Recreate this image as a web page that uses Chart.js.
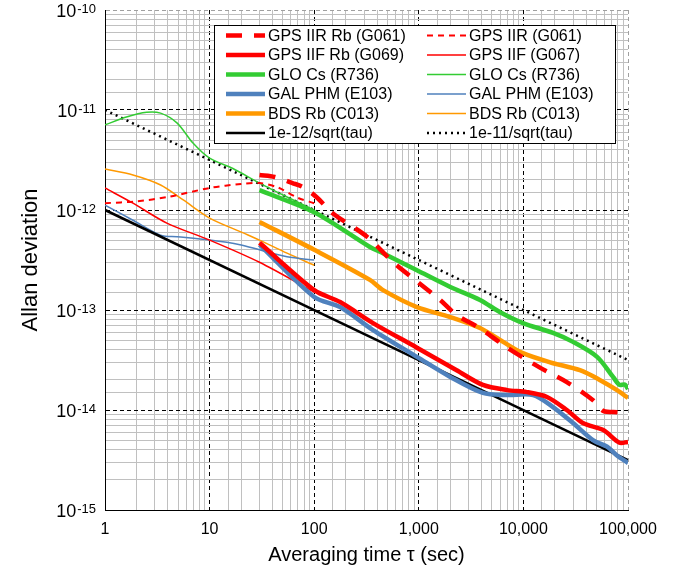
<!DOCTYPE html>
<html>
<head>
<meta charset="utf-8">
<script src="https://cdn.jsdelivr.net/npm/chart.js@4.4.1/dist/chart.umd.min.js"></script>
<style>
  body { margin: 0; background: #fff; }
  canvas { display: block; }
</style>
</head>
<body>
<canvas id="adev" width="676" height="571"></canvas>
<script>
const FONT = "'Liberation Sans', Arial, sans-serif";

// averaging time tau (s) and Allan deviation
const iirRbTau = [30, 42, 62, 78, 105, 150, 320, 570, 980, 1600, 2300, 3800, 7000, 14000, 26000, 46000, 58000, 80000];
const iirRbDev = [2.24e-12, 2.14e-12, 1.86e-12, 1.7e-12, 1.35e-12, 9.3e-13, 5.4e-13, 3.0e-13, 1.9e-13, 1.26e-13, 8.9e-14, 6.6e-14, 4.2e-14, 2.7e-14, 1.9e-14, 1.26e-14, 9.8e-15, 9.5e-15];

const iirTau = [1, 2, 4, 10, 20, 30, 45, 70, 100];
const iirDev = [1.17e-12, 1.22e-12, 1.35e-12, 1.66e-12, 1.82e-12, 1.86e-12, 1.68e-12, 1.32e-12, 1.17e-12];

const iifRbTau = [30, 100, 177, 365, 960, 2300, 4100, 7000, 10800, 16800, 26000, 37000, 58000, 83000, 100000];
const iifRbDev = [4.7e-13, 1.58e-13, 1.2e-13, 7.4e-14, 4.2e-14, 2.5e-14, 1.78e-14, 1.58e-14, 1.51e-14, 1.35e-14, 1.0e-14, 7.4e-15, 6.3e-15, 4.7e-15, 4.8e-15];

const iifTau = [1, 1.85, 3.9, 10, 30, 100];
const iifDev = [1.66e-12, 1.17e-12, 7.4e-13, 5.0e-13, 3.0e-13, 1.51e-13];

const gloThickTau = [30, 100, 341, 455, 960, 2000, 3850, 6000, 9900, 19200, 29800, 50600, 72000, 83000, 93000, 100000];
const gloThickDev = [1.58e-12, 9.5e-13, 4.27e-13, 3.7e-13, 2.5e-13, 1.7e-13, 1.26e-13, 9.5e-14, 7.4e-14, 5.9e-14, 4.8e-14, 3.4e-14, 2.14e-14, 1.78e-14, 1.8e-14, 1.62e-14];

const gloTau = [1, 1.6, 2.5, 3.4, 4.9, 6.9, 10, 16.7, 30, 55, 100];
const gloDev = [7.1e-12, 8.5e-12, 9.5e-12, 9.3e-12, 7.4e-12, 4.7e-12, 3.3e-12, 2.6e-12, 1.86e-12, 1.35e-12, 1.0e-12];

const galThickTau = [30, 100, 177, 365, 960, 2000, 4100, 7000, 12400, 19200, 29800, 46200, 63100, 78500, 100000];
const galThickDev = [4.5e-13, 1.35e-13, 1.07e-13, 6.3e-14, 3.4e-14, 2.14e-14, 1.48e-14, 1.41e-14, 1.41e-14, 1.07e-14, 7.4e-15, 5.0e-15, 4.3e-15, 3.5e-15, 2.95e-15];

const galTau = [1, 1.85, 3.4, 4.9, 10, 19.5, 30, 55, 100];
const galDev = [1.12e-12, 7.9e-13, 5.6e-13, 5.4e-13, 5.0e-13, 4.5e-13, 4.0e-13, 3.4e-13, 3.16e-13];

const bdsThickTau = [30, 100, 341, 455, 960, 2000, 3850, 6400, 9900, 18000, 34700, 53700, 78500, 100000];
const bdsThickDev = [7.6e-13, 4.0e-13, 2.0e-13, 1.58e-13, 1.07e-13, 8.5e-14, 6.6e-14, 4.8e-14, 3.7e-14, 3.0e-14, 2.5e-14, 2.0e-14, 1.58e-14, 1.32e-14];

const bdsTau = [1, 1.85, 3.4, 5.6, 10, 21, 30, 55, 100];
const bdsDev = [2.57e-12, 2.24e-12, 1.78e-12, 1.26e-12, 8.3e-13, 5.9e-13, 5.0e-13, 3.7e-13, 2.8e-13];

// reference slopes, end points only
const refTau = [1, 100000];
const ref12Dev = [1e-12, 3.16e-15];
const ref11Dev = [1e-11, 3.16e-14];

const xTicks = [1, 10, 100, 1000, 10000, 100000];
const yExponents = [-15, -14, -13, -12, -11, -10];

const RED = '#FF0000', GREEN = '#33CC33', BLUE = '#4F81BD', ORANGE = '#FF9900';

function pts(tau, dev) {
  return tau.map((t, i) => ({ x: t, y: dev[i] }));
}

function line(label, tau, dev, color, width, dash) {
  return {
    label: label,
    data: pts(tau, dev),
    borderColor: color,
    backgroundColor: color,
    borderWidth: width,
    borderDash: dash || [],
    borderJoinStyle: 'round',
    pointRadius: 0,
    fill: false,
    tension: 0.3
  };
}

const datasets = [
  line('GPS IIR Rb (G061)', iirRbTau, iirRbDev, RED, 4.5, [16, 12]),
  line('GPS IIF Rb (G069)', iifRbTau, iifRbDev, RED, 4.5),
  line('GLO Cs (R736)', gloThickTau, gloThickDev, GREEN, 4.5),
  line('GAL PHM (E103)', galThickTau, galThickDev, BLUE, 4.5),
  line('BDS Rb (C013)', bdsThickTau, bdsThickDev, ORANGE, 4.5),
  line('1e-12/sqrt(tau)', refTau, ref12Dev, '#000', 2.5),
  line('GPS IIR (G061)', iirTau, iirDev, RED, 2, [6, 5]),
  line('GPS IIF (G067)', iifTau, iifDev, RED, 1.5),
  line('GLO Cs (R736)', gloTau, gloDev, GREEN, 1.5),
  line('GAL PHM (E103)', galTau, galDev, BLUE, 1.5),
  line('BDS Rb (C013)', bdsTau, bdsDev, ORANGE, 1.5),
  line('1e-11/sqrt(tau)', refTau, ref11Dev, '#000', 2.5, [2, 4])
];

const legendCols = [[0, 1, 2, 3, 4, 5], [6, 7, 8, 9, 10, 11]];

function isDecade(v) {
  const l = Math.log10(v);
  return Math.abs(l - Math.round(l)) < 1e-6;
}

function gridColor(edgeValue) {
  return (c) => {
    if (!c.tick) return '#C0C0C0';
    const v = c.tick.value;
    if (!isDecade(v)) return '#C0C0C0';
    if (Math.abs(Math.log10(v) - Math.log10(edgeValue)) < 1e-6) return '#A0A0A0';
    return '#000';
  };
}

function gridDash(c) {
  return c.tick && isDecade(c.tick.value) ? [4, 3] : [];
}

const boxLegend = {
  id: 'boxLegend',
  afterDraw(chart) {
    const ctx = chart.ctx;
    ctx.save();
    ctx.fillStyle = '#fff';
    ctx.fillRect(214, 25, 401, 118);
    ctx.strokeStyle = '#000';
    ctx.lineWidth = 1;
    ctx.strokeRect(214.5, 25.5, 401, 118);
    ctx.font = '16px ' + FONT;
    ctx.textBaseline = 'middle';
    legendCols.forEach((col, c) => {
      col.forEach((di, r) => {
        const ds = chart.data.datasets[di];
        const x0 = c === 0 ? 226 : 427;
        const y = 35.5 + r * 19.5;
        ctx.strokeStyle = ds.borderColor;
        ctx.lineWidth = ds.borderWidth;
        ctx.setLineDash(ds.borderDash);
        ctx.beginPath();
        ctx.moveTo(x0, y);
        ctx.lineTo(x0 + 39, y);
        ctx.stroke();
        ctx.setLineDash([]);
        ctx.fillStyle = '#000';
        ctx.fillText(ds.label, x0 + 42, y + 1);
      });
    });
    ctx.restore();
  }
};

// y labels as 10 with a raised exponent
const powerLabels = {
  id: 'powerLabels',
  afterDraw(chart) {
    const ctx = chart.ctx;
    const ys = chart.scales.y;
    ctx.save();
    ctx.fillStyle = '#000';
    yExponents.forEach(e => {
      const y = ys.getPixelForValue(Math.pow(10, e));
      const sup = '-' + Math.abs(e);
      ctx.font = '13px ' + FONT;
      const supW = ctx.measureText(sup).width;
      const supX = 96 - supW;
      ctx.textAlign = 'left';
      ctx.textBaseline = 'alphabetic';
      ctx.fillText(sup, supX, y + 3);
      ctx.font = '18px ' + FONT;
      ctx.textAlign = 'right';
      ctx.textBaseline = 'middle';
      ctx.fillText('10', supX - 1, y + 2);
    });
    ctx.restore();
  }
};

new Chart(document.getElementById('adev'), {
  type: 'line',
  data: { datasets: datasets },
  options: {
    responsive: false,
    animation: false,
    devicePixelRatio: 1,
    layout: { padding: { top: 10, right: 48, left: 0, bottom: 0 } },
    plugins: {
      legend: { display: false },
      tooltip: { enabled: false }
    },
    scales: {
      x: {
        type: 'logarithmic',
        min: 1,
        max: 100000,
        afterFit: (s) => { s.height = 61; },
        grid: { color: gridColor(100000), lineWidth: 1, drawTicks: false },
        border: { color: '#000', width: 1, dash: gridDash },
        ticks: {
          autoSkip: false,
          maxRotation: 0,
          padding: 10,
          color: '#000',
          font: { family: FONT, size: 16 },
          callback: (v) => xTicks.some(t => Math.abs(t - v) < 1e-6 * t) ? Number(v).toLocaleString('en-US') : ''
        },
        title: {
          display: true,
          text: 'Averaging time τ (sec)',
          color: '#000',
          font: { family: FONT, size: 20 },
          padding: { top: 0, bottom: 4 }
        }
      },
      y: {
        type: 'logarithmic',
        min: 1e-15,
        max: 1e-10,
        afterFit: (s) => { s.width = 105; },
        grid: { color: gridColor(1e-10), lineWidth: 1, drawTicks: false },
        border: { color: '#000', width: 1, dash: gridDash },
        ticks: { display: false, autoSkip: false },
        title: {
          display: true,
          text: 'Allan deviation',
          color: '#000',
          font: { family: FONT, size: 22 },
          padding: { top: 18, bottom: 0 }
        }
      }
    }
  },
  plugins: [boxLegend, powerLabels]
});
</script>
</body>
</html>
